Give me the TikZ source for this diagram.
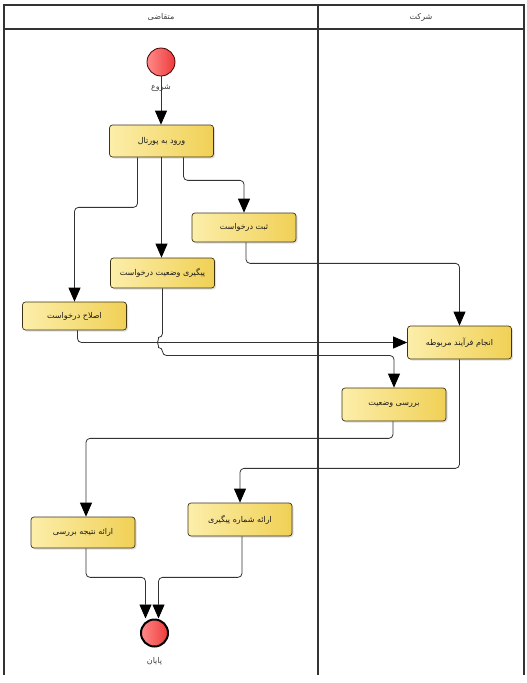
\documentclass[tikz,border=0pt]{standalone}
\usepackage{fontspec}
\newfontfamily\farsi[Script=Arabic]{DejaVu Sans}
\TeXXeTstate=1
\usepackage{xcolor}
\usetikzlibrary{positioning,arrows.meta,shadows,calc}
\definecolor{boxleft}{HTML}{FCEEAA}
\definecolor{boxright}{HTML}{F0D055}
\definecolor{boxline}{HTML}{3E3414}
\definecolor{dotleft}{HTML}{FF8A8A}
\definecolor{dotright}{HTML}{EE3A3A}
\newcommand{\fatext}[1]{{\farsi\beginR #1\endR}}
\tikzset{%
	block/.style    = {draw=boxline, line width=0.7pt, rounded corners=3pt, left color=boxleft,
		right color=boxright, minimum width=104pt, minimum height=31pt,
		font=\fontsize{8}{9}\selectfont, text=black!90,
		drop shadow={opacity=0.25, shadow xshift=1.5pt, shadow yshift=-1.5pt}},
	startdot/.style = {circle, draw=black!75!red, line width=0.8pt, minimum size=28pt,
		left color=dotleft, right color=dotright},
	enddot/.style   = {circle, draw=black, line width=2pt, minimum size=27pt,
		left color=dotleft, right color=dotright},
	lbl/.style      = {font=\fontsize{8}{9}\selectfont, text=black!75, inner sep=1pt},
	lane/.style     = {line width=1.3pt, draw=black!80}
}
\begin{document}
\begin{tikzpicture}[x=1pt, y=-1pt,
	>={Triangle[length=14pt,width=12pt,color=black]},
	flow/.style={->, draw=black!80, line width=0.8pt, rounded corners=4pt}]
	\useasboundingbox (0,0) rectangle (527,683);
	% swimlanes
	\draw[lane] (4,675) -- (4,5) -- (524,5) -- (524,675);
	\draw[lane] (4,29) -- (524,29);
	\draw[lane] (318,5) -- (318,675);
	\node[lbl] (lanea) at (161,17) {\fatext{متقاضی}};
	\node[lbl] (laneb) at (421,17) {\fatext{شرکت}};
	
	\draw
	node at (161,62) [startdot] (start) {}
	node at (161.5,141) [block, minimum height=32pt] (portal) {\fatext{ورود به پورتال}}
	node at (244,227.5) [block, minimum height=29pt] (sabt) {\fatext{ثبت درخواست}}
	node at (162.5,273) [block, minimum height=30pt] (peygiri) {\fatext{پیگیری وضعیت درخواست}}
	node at (74.5,316) [block, minimum height=28pt] (eslah) {\fatext{اصلاح درخواست}}
	node at (459.5,342.5) [block, minimum height=33pt] (anjam) {\fatext{انجام فرآیند مربوطه}}
	node at (394,404.5) [block, minimum height=33pt] (barresi) {\fatext{بررسی وضعیت}}
	node at (240,519.5) [block, minimum height=33pt] (shomare) {\fatext{ارائه شماره پیگیری}}
	node at (83,532.5) [block] (natije) {\fatext{ارائه نتیجه بررسی}}
	node at (154.5,633) [enddot] (finish) {};
	\node[lbl] (startlbl) at (161,88) {\fatext{شروع}};
	\node[lbl] (finishlbl) at (154.5,661) {\fatext{پایان}};
	
	\draw[flow] (start.south) -- (start.south |- portal.north);
	\draw[flow] ([xshift=-24pt]portal.south) -- ++(0,50) -| (eslah.north);
	\draw[flow] (portal.south) -- (portal.south |- peygiri.north);
	\draw[flow] ([xshift=22pt]portal.south) -- ++(0,23) -| (sabt.north);
	\draw[flow] ([xshift=2pt]sabt.south) -- ++(0,21) -| (anjam.north);
	\draw[flow] ([xshift=3pt]eslah.south) |- (anjam.west);
	\coordinate (hop) at (peygiri.south |- anjam.west);
	\draw[flow] (peygiri.south) -- ([yshift=5pt]hop)
		arc[start angle=270, end angle=90, radius=5] -- ++(0,8) -| (barresi.north);
	\draw[flow] (anjam.south) -- ++(0,109) -| (shomare.north);
	\draw[flow] ([xshift=-1pt]barresi.south) -- ++(0,17) -| ([xshift=3pt]natije.north);
	\draw[flow] ([xshift=3pt]natije.south) -- ++(0,29) -| ([xshift=-9pt]finish.north);
	\draw[flow] ([xshift=2pt]shomare.south) -- ++(0,41) -| ([xshift=4pt]finish.north);
	
\end{tikzpicture}
\end{document}
